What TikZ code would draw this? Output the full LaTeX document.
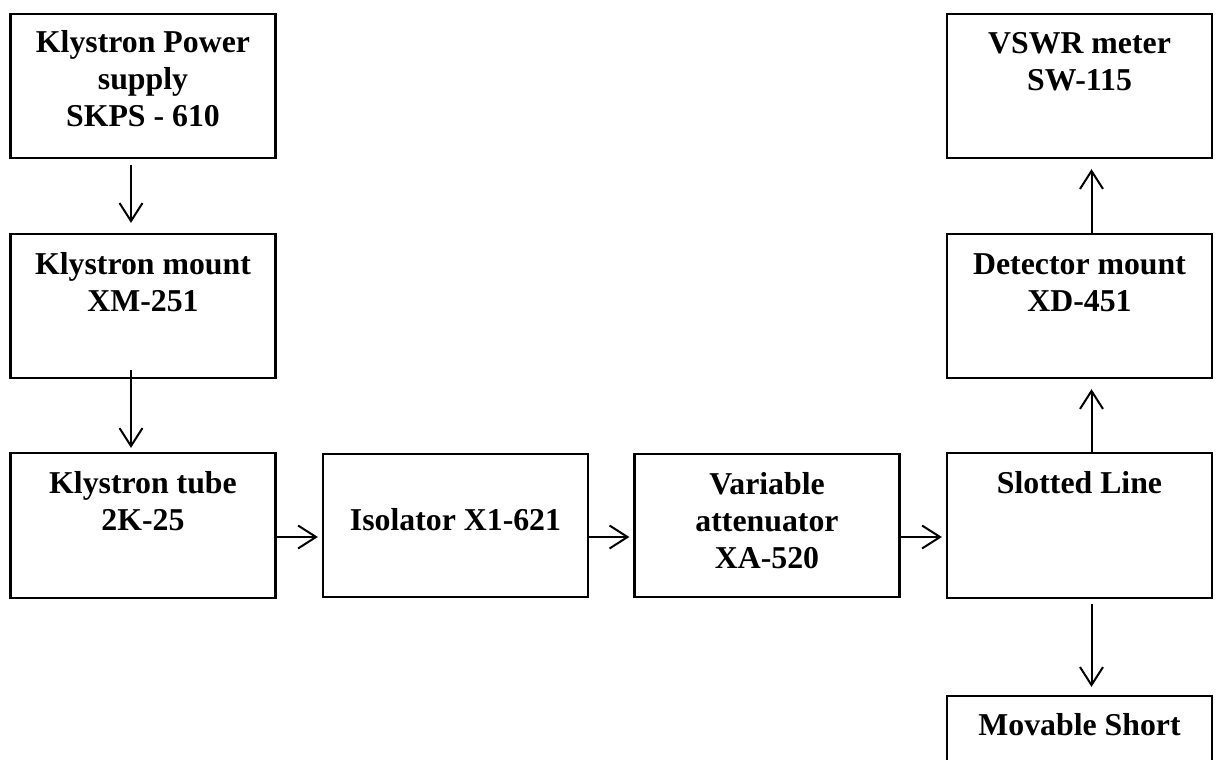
\documentclass[tikz,border=0pt]{standalone}
\usepackage{fontspec}
\setmainfont{Liberation Serif}
\usetikzlibrary{arrows.meta}
\begin{document}
\begin{tikzpicture}[x=1pt, y=-1pt,
  blk/.style={draw, line width=2.2pt, minimum width=265pt, minimum height=144pt, inner sep=0pt},
  % captions are placed by the baseline of their last line
  lbl/.style={anchor=base, align=center, inner sep=0pt,
    font=\fontsize{31.8}{37}\selectfont\bfseries},
  flow/.style={line width=2pt, -{Straight Barb[length=18pt, width=23pt, line width=2pt]}}
]
\useasboundingbox (0,0) rectangle (1219,760);
\clip (0,0) rectangle (1219,760);

% blocks (centre positions)
\node[blk] (kps)    at (143,86)    {};
\node[blk] (kmount) at (143,306)   {};
\node[blk, minimum height=145pt] (ktube) at (143,525.5) {};
\node[blk, minimum height=143pt] (iso)   at (455.5,525.5) {};
\node[blk, minimum height=143pt] (vatt)  at (767,525.5) {};
\node[blk, minimum height=145pt] (slot)  at (1079.5,525.5) {};
\node[blk] (det)    at (1079.5,306) {};
\node[blk] (vswr)   at (1079.5,86)  {};
\node[blk] (short)  at (1079.5,768) {};

% block captions
\node[lbl] (kps-t)    at ([yshift=-114pt]kps.north)    {Klystron Power\\supply\\SKPS - 610};
\node[lbl] (kmount-t) at ([yshift=-79pt]kmount.north)  {Klystron mount\\XM-251};
\node[lbl] (ktube-t)  at ([yshift=-79pt]ktube.north)   {Klystron tube\\2K-25};
\node[lbl] (iso-t)    at ([yshift=-78pt]iso.north)     {Isolator X1-621};
\node[lbl] (vatt-t)   at ([yshift=-116pt]vatt.north)   {Variable\\attenuator\\XA-520};
\node[lbl] (slot-t)   at ([yshift=-42pt]slot.north)    {Slotted Line};
\node[lbl] (det-t)    at ([yshift=-79pt]det.north)     {Detector mount\\XD-451};
\node[lbl] (vswr-t)   at ([yshift=-78pt]vswr.north)    {VSWR meter\\SW-115};
\node[lbl] (short-t)  at ([yshift=-41pt]short.north)   {Movable Short};

% signal path
\draw[flow, shorten <=6pt, shorten >=10pt] ([xshift=-12pt]kps.south) -- ([xshift=-12pt]kmount.north);
\draw[flow, shorten <=-9pt, shorten >=4pt] ([xshift=-12pt]kmount.south) -- ([xshift=-12pt]ktube.north);
\draw[flow, shorten >=4pt] ([yshift=-11.5pt]ktube.east) -- ([yshift=-11.5pt]iso.west);
\draw[flow, shorten >=4pt] ([yshift=-11.5pt]iso.east) -- ([yshift=-11.5pt]vatt.west);
\draw[flow, shorten >=4pt] ([yshift=-11.5pt]vatt.east) -- ([yshift=-11.5pt]slot.west);
\draw[flow, shorten >=10pt] ([xshift=12pt]slot.north) -- ([xshift=12pt]det.south);
\draw[flow, shorten >=10pt] ([xshift=12pt]det.north) -- ([xshift=12pt]vswr.south);
\draw[flow, shorten <=5pt, shorten >=8pt] ([xshift=12pt]slot.south) -- ([xshift=12pt]short.north);
\end{tikzpicture}
\end{document}
